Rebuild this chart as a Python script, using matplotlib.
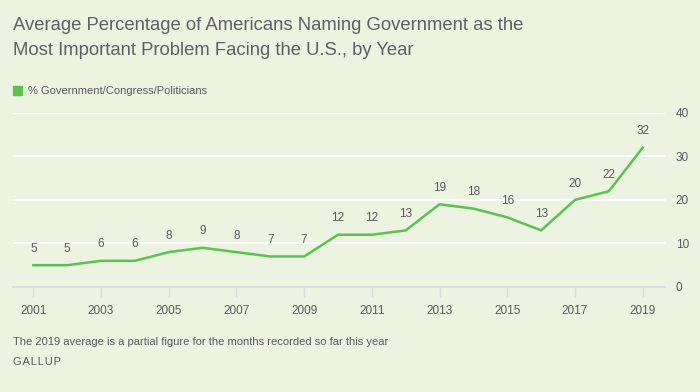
import numpy as np
import matplotlib.pyplot as plt

years = list(range(2001, 2020))
pct = [5, 5, 6, 6, 8, 9, 8, 7, 7, 12, 12, 13, 19, 18, 16, 13, 20, 22, 32]
series_name = "% Government/Congress/Politicians"
title = "Average Percentage of Americans Naming Government as the\nMost Important Problem Facing the U.S., by Year"
note = "The 2019 average is a partial figure for the months recorded so far this year"

bg = "#ecf3e0"
green = "#5cc24f"
grey = "#5a5a5a"

plt.rcParams['font.family'] = ['Liberation Sans', 'DejaVu Sans']

fig = plt.figure(figsize=(7, 3.92), dpi=100, facecolor=bg)
ax = fig.add_axes([0.0186, 0.268, 0.931, 0.444], facecolor=bg)

ax.plot(years, pct, color=green, lw=1.8, clip_on=False, zorder=3)
for x, y in zip(years, pct):
    ax.annotate(str(y), (x, y), xytext=(0, 7.5), textcoords='offset points',
                ha='center', va='bottom', fontsize=8.5, color=grey)

ax.set_xlim(2000.4, 2019.65)
ax.set_ylim(0, 40)
ax.set_yticks([0, 10, 20, 30, 40])
ax.yaxis.tick_right()
ax.tick_params(axis='y', length=0, pad=8, labelsize=8.5, labelcolor=grey)
ax.grid(axis='y', color='white', lw=1.5)
ax.set_axisbelow(True)
ax.set_xticks(years[::2])
ax.tick_params(axis='x', length=7, color='#dcdcdc', width=1, pad=6,
               labelsize=8.5, labelcolor=grey)
for s in ['top', 'left', 'right']:
    ax.spines[s].set_visible(False)
ax.spines['bottom'].set_color('#dcdcdc')
ax.spines['bottom'].set_linewidth(1.5)

fig.text(13 / 700, 1 - 17 / 392, title, fontsize=13.3, color='#606060',
         va='top', ha='left', linespacing=1.65)
fig.patches.append(plt.Rectangle((13 / 700, 1 - 95 / 392), 9 / 700, 9 / 392,
                                 transform=fig.transFigure, color=green))
fig.text(28 / 700, 1 - 90.5 / 392, series_name, fontsize=8, color=grey,
         va='center', ha='left')
fig.text(13 / 700, 1 - 342 / 392, note, fontsize=8, color=grey,
         va='center', ha='left')
fig.text(13 / 700, 1 - 362 / 392, "\u200a".join("GALLUP"), fontsize=8,
         color=grey, va='center', ha='left')

plt.savefig('out.png', dpi=100, facecolor=bg)
